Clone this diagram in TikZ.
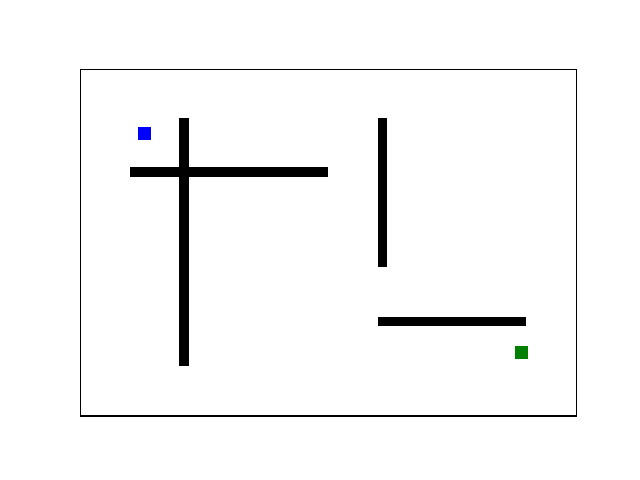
\documentclass[tikz,border=0pt]{standalone}
\usepackage{tikz}
\usepackage{xcolor}
\definecolor{startblue}{RGB}{0, 0, 255}
\definecolor{goalgreen}{RGB}{0, 128, 0}

\begin{document}
\begin{tikzpicture}[
  x=0.02cm, y=-0.02cm,
  wall/.style={fill=black, draw=none},
  frame/.style={draw=black, line width=0.6pt},
  marker/.style={draw=none},
]
  \useasboundingbox (0,0) rectangle (640,480);
  \fill[white] (0,0) rectangle (640,480);

  % axes frame
  \draw[frame] (80.3,69.3) rectangle (576.3,416);

  % walls
  \fill[wall] (179,118) rectangle (189,366);
  \fill[wall] (130,167) rectangle (328,177);
  \fill[wall] (378,118) rectangle (387,267);
  \fill[wall] (378,317) rectangle (526,326);

  % start and goal
  \fill[marker, startblue] (137.7,126.7) rectangle (151,140);
  \fill[marker, goalgreen] (514.7,345.7) rectangle (528.3,359);
\end{tikzpicture}
\end{document}
